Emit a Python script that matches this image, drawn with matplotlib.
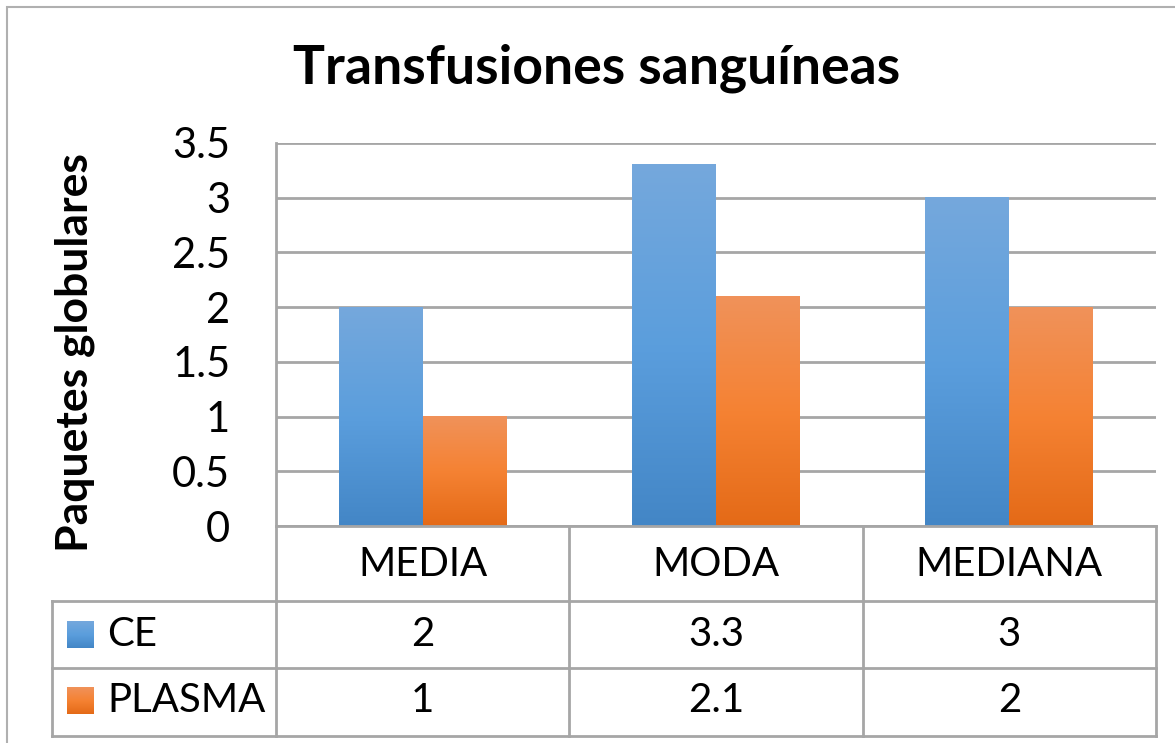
import numpy as np
import matplotlib
matplotlib.use("Agg")
import matplotlib.pyplot as plt
from matplotlib.patches import Rectangle
from matplotlib.colors import LinearSegmentedColormap

plt.rcParams['font.family'] = ['Lato', 'DejaVu Sans']

categories = ['MEDIA', 'MODA', 'MEDIANA']
series = ['CE', 'PLASMA']
ce = [2, 3.3, 3]
plasma = [1, 2.1, 2]
ce_labels = ['2', '3.3', '3']
plasma_labels = ['1', '2.1', '2']
yticks = [0, 0.5, 1, 1.5, 2, 2.5, 3, 3.5]

W, H = 1175, 743
fig = plt.figure(figsize=(W / 100, H / 100), dpi=100)

def px(x0, y0, x1, y1):
    # pixel box -> figure fraction [left, bottom, width, height]
    return [x0 / W, 1 - y1 / H, (x1 - x0) / W, (y1 - y0) / H]

grid_c = '#A6A6A6'
ce_grad = LinearSegmentedColormap.from_list('ce', ['#4386C6', '#5B9EDD', '#75A8DC'])
pl_grad = LinearSegmentedColormap.from_list('pl', ['#E46A17', '#F58233', '#F0925A'])

# outer frame
fig.patches.append(Rectangle((7 / W, -0.1), 1.2, 1 - 7 / H + 0.1, transform=fig.transFigure,
                             fill=False, edgecolor='#B0B0B0', lw=1.5))

ax = fig.add_axes(px(276, 143, 1156, 526))
x = np.arange(len(categories))
bw = 0.286
b1 = ax.bar(x - bw / 2, ce, bw, color='none', zorder=3)
b2 = ax.bar(x + bw / 2, plasma, bw, color='none', zorder=3)
grad = np.linspace(0, 1, 256).reshape(-1, 1)
for bars, cmap in [(b1, ce_grad), (b2, pl_grad)]:
    for r in bars:
        x0, w, h = r.get_x(), r.get_width(), r.get_height()
        ax.imshow(grad, cmap=cmap, origin='lower', aspect='auto',
                  extent=[x0, x0 + w, 0, h], zorder=3)
ax.set_xlim(-0.5, 2.5)
ax.set_ylim(0, 3.5)
ax.set_yticks(yticks)
ax.set_yticklabels([f'{t:g}' for t in yticks], fontsize=30)
ax.tick_params(axis='y', length=0, pad=33)
ax.set_xticks([])
ax.grid(axis='y', color=grid_c, lw=2, zorder=0)
for s in ['top', 'right', 'bottom']:
    ax.spines[s].set_visible(False)
ax.spines['left'].set_color(grid_c)
ax.spines['left'].set_linewidth(2)
ax.set_ylabel('Paquetes globulares', fontsize=32, fontweight='bold')
ax.yaxis.set_label_coords(-0.206, 0.454)

fig.text(597 / W, 1 - 68 / H, 'Transfusiones sanguíneas', fontsize=38.5,
         fontweight='bold', ha='center', va='center')

# data table below the plot
tx = fig.add_axes(px(52, 526, 1156, 736))
unit = 880 / 3
left = -0.5 - 224 / unit
tx.set_xlim(left, 2.5)
tx.set_ylim(3, 0)
tx.axis('off')
lk = dict(color=grid_c, lw=2, clip_on=False)
tx.plot([-0.5, 2.5], [0, 0], **lk)
for xe in [-0.5, 0.5, 1.5, 2.5]:
    tx.plot([xe, xe], [0, 3], **lk)
tx.plot([left, left], [1.07, 3], **lk)
for yr in [1.07, 2.03, 3]:
    tx.plot([left, 2.5], [yr, yr], **lk)
for i, c in enumerate(categories):
    tx.text(i, 0.55, c, fontsize=29, ha='center', va='center')
rows = [(1.55, ce_labels, ce_grad), (2.5, plasma_labels, pl_grad)]
for (yc, labs, cmap), name in zip(rows, series):
    for i, t in enumerate(labs):
        tx.text(i, yc, t, fontsize=29, ha='center', va='center')
    sq = 27 / unit
    x0 = left + 15 / unit
    tx.imshow(grad, cmap=cmap, origin='lower', aspect='auto',
              extent=[x0, x0 + sq, yc + 0.19, yc - 0.19], clip_on=False)
    tx.text(x0 + sq + 13 / unit, yc, name, fontsize=29, ha='left', va='center')
tx.set_xlim(left, 2.5)
tx.set_ylim(3, 0)

fig.savefig('out.png', dpi=100)
